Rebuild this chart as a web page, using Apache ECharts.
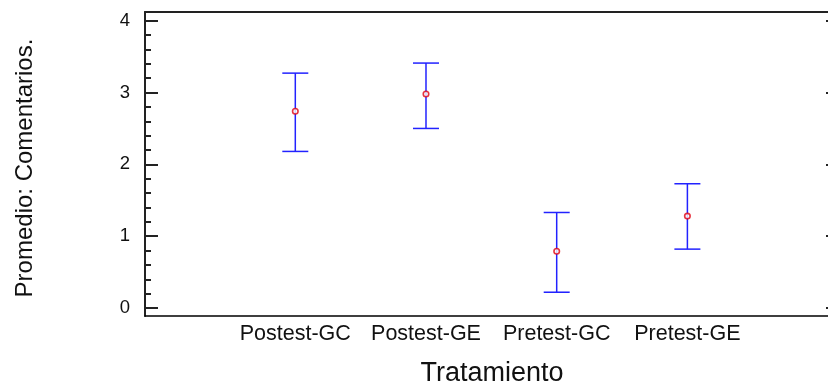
<!DOCTYPE html>
<html>
<head>
<meta charset="utf-8">
<script src="https://cdn.jsdelivr.net/npm/echarts@6/dist/echarts.min.js"></script>
<style>
html,body{margin:0;padding:0;background:#fff;}
#chart{width:828px;height:391px;}
</style>
</head>
<body>
<div id="chart"></div>
<script>
const categories = ['Postest-GC', 'Postest-GE', 'Pretest-GC', 'Pretest-GE'];
const means = [2.74, 2.98, 0.79, 1.28];
const lower = [2.18, 2.50, 0.22, 0.82];
const upper = [3.27, 3.41, 1.33, 1.73];
const yMajorTicks = [0, 1, 2, 3, 4];
const yMinorTicks = [0.2,0.4,0.6,0.8,1.2,1.4,1.6,1.8,2.2,2.4,2.6,2.8,3.2,3.4,3.6,3.8];

const FONT = 'Liberation Sans, Arial, sans-serif';
const chart = echarts.init(document.getElementById('chart'), null, {renderer: 'canvas'});

const idx = categories.map((c, i) => i);
const barData = idx.map(i => [i, lower[i], upper[i]]);
const meanData = idx.map(i => [i, means[i]]);

const option = {
  backgroundColor: '#fff',
  animation: false,
  grid: {left: 145, top: 12, right: -11, bottom: 75, containLabel: false, outerBoundsMode: 'none'},
  xAxis: [{
    type: 'value', min: -1.15, max: 4.16, position: 'bottom',
    axisLine: {show: true, onZero: false, lineStyle: {color: '#000', width: 1.5}},
    axisTick: {show: false},
    splitLine: {show: false},
    axisLabel: {
      customValues: idx, margin: 7,
      fontFamily: FONT, fontSize: 21.5, color: '#111',
      formatter: v => categories[Math.round(v)] || ''
    },
    name: 'Tratamiento', nameLocation: 'middle', nameGap: 44,
    nameTextStyle: {fontFamily: FONT, fontSize: 27, color: '#111'}
  }, {
    type: 'value', min: -1.15, max: 4.16, position: 'top',
    axisLine: {show: true, onZero: false, lineStyle: {color: '#222', width: 2}},
    axisTick: {show: false}, axisLabel: {show: false}, splitLine: {show: false}
  }],
  yAxis: [{
    type: 'value', min: -0.111, max: 4.121, position: 'left',
    axisLine: {show: true, onZero: false, lineStyle: {color: '#222', width: 2}},
    axisTick: {show: true, inside: true, length: 13, customValues: yMajorTicks, lineStyle: {color: '#222', width: 2}},
    axisLabel: {customValues: yMajorTicks, margin: 15, fontFamily: FONT, fontSize: 18.5, color: '#111'},
    splitLine: {show: false},
    name: 'Promedio: Comentarios.', nameLocation: 'middle', nameGap: 108, nameRotate: 90,
    nameTextStyle: {fontFamily: FONT, fontSize: 24, color: '#111', padding: [0, 8, 0, 0]}
  }, {
    type: 'value', min: -0.111, max: 4.121, position: 'left',
    axisLine: {show: false, onZero: false},
    axisTick: {show: true, inside: true, length: 6, customValues: yMinorTicks, lineStyle: {color: '#222', width: 2}},
    axisLabel: {show: false}, splitLine: {show: false}
  }, {
    type: 'value', min: -0.111, max: 4.121, position: 'right',
    axisLine: {show: true, onZero: false, lineStyle: {color: '#222', width: 2}},
    axisTick: {show: true, inside: true, length: 13, customValues: yMajorTicks, lineStyle: {color: '#222', width: 2}},
    axisLabel: {show: false}, splitLine: {show: false}
  }],
  series: [{
    type: 'custom',
    xAxisIndex: 0, yAxisIndex: 0,
    renderItem: function (params, api) {
      const x = api.value(0);
      const lo = api.coord([x, api.value(1)]);
      const hi = api.coord([x, api.value(2)]);
      const half = 13;
      const style = {stroke: '#2222ff', lineWidth: 1.5};
      return {
        type: 'group',
        children: [
          {type: 'line', shape: {x1: hi[0], y1: hi[1], x2: lo[0], y2: lo[1]}, style: style},
          {type: 'line', shape: {x1: hi[0] - half, y1: hi[1], x2: hi[0] + half, y2: hi[1]}, style: style},
          {type: 'line', shape: {x1: lo[0] - half, y1: lo[1], x2: lo[0] + half, y2: lo[1]}, style: style}
        ]
      };
    },
    encode: {x: 0, y: [1, 2]},
    data: barData,
    z: 2
  }, {
    type: 'scatter',
    xAxisIndex: 0, yAxisIndex: 0,
    symbol: 'circle', symbolSize: 5.5,
    itemStyle: {color: '#fff', borderColor: '#e00010', borderWidth: 1.6},
    data: meanData,
    z: 3
  }]
};
chart.setOption(option);
</script>
</body>
</html>
